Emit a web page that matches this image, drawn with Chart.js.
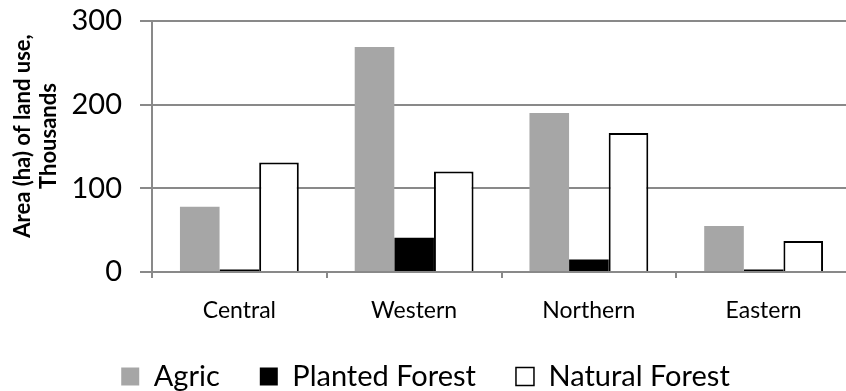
<!DOCTYPE html>
<html>
<head>
<meta charset="utf-8">
<script src="https://cdn.jsdelivr.net/npm/chart.js@4"></script>
<style>
  html, body { margin: 0; padding: 0; background: #fff; overflow: hidden; }
  #wrap { width: 860px; height: 391px; }
</style>
</head>
<body>
<div id="wrap"><canvas id="landChart"></canvas></div>
<script>
'use strict';

const regions = ['Central', 'Western', 'Northern', 'Eastern'];
const agric = [78, 269, 190, 55];
const plantedForest = [3, 41, 15, 3];
const naturalForest = [131, 120, 166, 37];
const yTicks = [0, 100, 200, 300];
const yTitle = ['Area (ha) of land use,', 'Thousands'];

const GRID = '#898989';
const FONT = 'Lato, "Open Sans", sans-serif';

// y title drawn by hand so both lines sit centred like the original
const yTitlePlugin = {
  id: 'yTitle',
  afterDraw(chart) {
    const { ctx } = chart;
    ctx.save();
    ctx.fillStyle = '#000';
    ctx.font = `bold 22px ${FONT}`;
    ctx.textAlign = 'center';
    ctx.textBaseline = 'middle';
    const xs = [23, 49];
    yTitle.forEach((line, i) => {
      ctx.save();
      ctx.translate(xs[i], 136);
      ctx.rotate(-Math.PI / 2);
      ctx.fillText(line, 0, 0);
      ctx.restore();
    });
    ctx.restore();
  }
};

new Chart(document.getElementById('landChart'), {
  type: 'bar',
  data: {
    labels: regions,
    datasets: [
      {
        label: 'Agric',
        data: agric,
        backgroundColor: '#a6a6a6',
        borderWidth: 0
      },
      {
        label: 'Planted Forest',
        data: plantedForest,
        backgroundColor: '#000',
        borderColor: '#000',
        borderWidth: 0
      },
      {
        label: 'Natural Forest',
        data: naturalForest,
        backgroundColor: '#fff',
        borderColor: '#000',
        borderWidth: 2
      }
    ]
  },
  options: {
    responsive: true,
    maintainAspectRatio: false,
    animation: false,
    layout: {
      padding: { top: 21, right: 9, bottom: -10, left: 0 }
    },
    datasets: {
      bar: { categoryPercentage: 0.68, barPercentage: 1.0 }
    },
    plugins: {
      tooltip: { enabled: false },
      legend: {
        position: 'bottom',
        labels: {
          color: '#000',
          font: { family: FONT, size: 29 },
          boxWidth: 18,
          boxHeight: 18,
          padding: 40,
          generateLabels(chart) {
            return chart.data.datasets.map((ds, i) => ({
              text: ds.label,
              fillStyle: ds.backgroundColor,
              strokeStyle: i === 2 ? '#000' : ds.backgroundColor,
              lineWidth: i === 2 ? 1.5 : 0,
              hidden: false,
              datasetIndex: i
            }));
          }
        }
      }
    },
    scales: {
      x: {
        grid: {
          offset: true,
          drawOnChartArea: false,
          drawTicks: true,
          tickLength: 6,
          color: GRID,
          lineWidth: 2
        },
        border: { display: true, color: GRID, width: 2 },
        ticks: {
          color: '#000',
          font: { family: FONT, size: 23 },
          padding: 19
        },
        afterFit(scale) { scale.height = 50; }
      },
      y: {
        min: 0,
        max: 300,
        afterBuildTicks(scale) {
          scale.ticks = yTicks.map((v) => ({ value: v }));
        },
        grid: {
          color: GRID,
          lineWidth: 2,
          tickLength: 12
        },
        border: { display: true, color: GRID, width: 2 },
        ticks: {
          color: '#000',
          font: { family: FONT, size: 29 },
          padding: 18
        },
        afterFit(scale) {
          scale.width = 152;
          scale.paddingTop = 0;
          scale.paddingBottom = 0;
        }
      }
    }
  },
  plugins: [yTitlePlugin]
});
</script>
</body>
</html>
